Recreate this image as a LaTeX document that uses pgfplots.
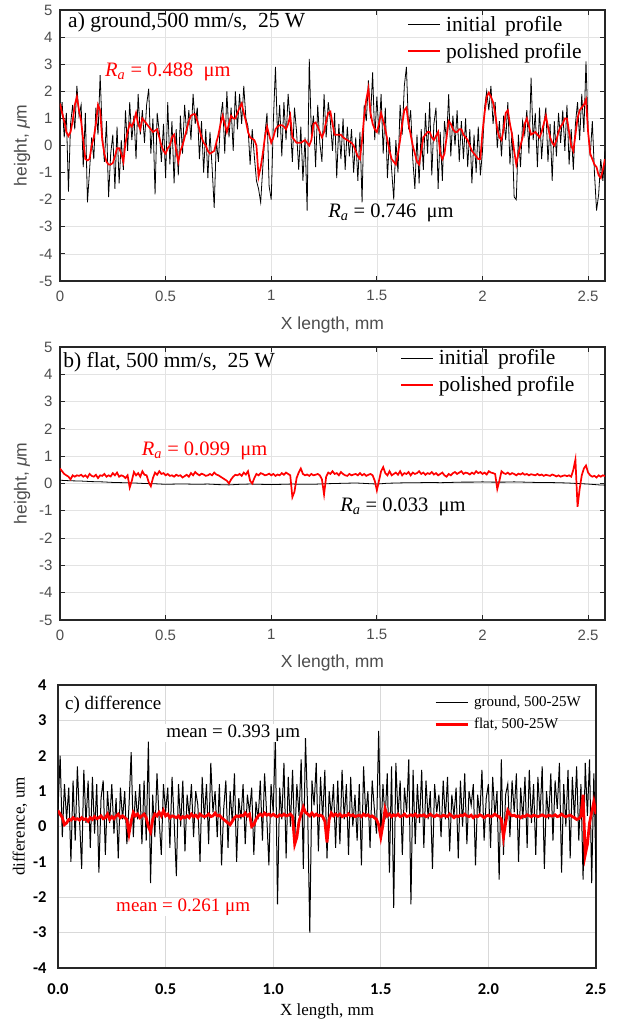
\documentclass[border=0pt]{standalone}
\usepackage{fontspec}
\setmainfont{Liberation Serif}
\setsansfont{Liberation Sans}
\newfontfamily\carlito{Carlito}
\usepackage{pgfplots}
\pgfplotsset{compat=1.18}
\definecolor{axgray}{HTML}{262626}
\definecolor{tickgray}{HTML}{4D4D4D}
\definecolor{gridgray}{HTML}{E3E3E3}
\definecolor{gridc}{HTML}{D9D9D9}
\pgfplotsset{
 matlab/.style={
  scale only axis, width=545pt,
  xmin=0, xmax=2.58, ymin=-5, ymax=5,
  xtick={0,0.5,1,1.5,2,2.5}, ytick={-5,-4,...,5},
  grid=major, grid style={gridgray, line width=0.7pt},
  axis line style={axgray, line width=1.4pt},
  tick style={axgray, line width=1pt}, tick align=inside, tick pos=both,
  major tick length=5pt,
  /pgf/number format/assume math mode=true,
  ticklabel style={font=\sffamily\fontsize{15}{17}\selectfont, text=tickgray},
  xticklabel style={yshift=-6pt},
  yticklabel style={xshift=-4pt},
  label style={font=\sffamily\fontsize{17.5}{20}\selectfont, text=tickgray},
  xlabel={X length, mm},
  ylabel={height, {\itshape μ}m},
  ylabel style={at={(axis description cs:-0.0697,0.5)}, anchor=center},
  legend cell align=left,
  legend image code/.code={\draw[#1] (0pt,0pt) -- (32pt,0pt);},
  legend style={draw=none, fill=none, font=\fontsize{21.5}{23}\selectfont, inner sep=0pt, row sep=6pt, column sep=3pt},
 }
}
\begin{document}
\begin{tikzpicture}
\path[use as bounding box] (0pt,0pt) rectangle (623pt,-1021pt);
% ---------------- panel a ----------------
\begin{axis}[matlab, at={(60pt,-281pt)}, anchor=south west, height=271pt,
  xlabel style={at={(axis description cs:0.5,-0.162)}, anchor=center},
  legend style={at={(0.637,0.985)}, anchor=north west}]
\addplot[black, line width=0.8pt] coordinates {
(0.00,0.9)(0.01,1.6)(0.02,0.3)(0.03,1.2)(0.04,-1.7)(0.05,0.8)(0.06,1.5)(0.07,0.6)(0.08,2.2)(0.09,1.1)
(0.10,1.5)(0.11,-0.8)(0.12,1.2)(0.13,-2.1)(0.14,-0.9)(0.15,0.3)(0.16,-0.5)(0.17,1.4)(0.18,0.4)(0.19,2.6)
(0.20,0.5)(0.21,-0.6)(0.22,0.9)(0.23,-1.9)(0.24,-0.3)(0.25,0.4)(0.26,-1.6)(0.27,0.7)(0.28,-1.4)(0.29,0.2)
(0.30,-0.9)(0.31,1.3)(0.32,-0.2)(0.33,1.6)(0.34,0.2)(0.35,1.1)(0.36,-0.5)(0.37,1.9)(0.38,0.4)(0.39,1.3)
(0.40,0.1)(0.41,1.5)(0.42,2.1)(0.43,-0.3)(0.44,1.0)(0.45,-1.8)(0.46,1.2)(0.47,0.5)(0.48,-0.6)(0.49,0.8)
(0.50,-1.2)(0.51,1.6)(0.52,-0.7)(0.53,0.9)(0.54,-1.4)(0.55,0.6)(0.56,-1.1)(0.57,1.1)(0.58,-0.3)(0.59,1.5)
(0.60,0.4)(0.61,1.3)(0.62,0.2)(0.63,1.9)(0.64,0.8)(0.65,1.4)(0.66,-0.5)(0.67,0.9)(0.68,-1.0)(0.69,0.6)
(0.70,-1.2)(0.71,0.5)(0.72,-0.8)(0.73,-2.3)(0.74,0.2)(0.75,-0.6)(0.76,1.0)(0.77,1.6)(0.78,-0.3)(0.79,2.0)
(0.80,0.3)(0.81,1.4)(0.82,-0.2)(0.83,2.0)(0.84,0.6)(0.85,1.9)(0.86,0.8)(0.87,2.2)(0.88,1.0)(0.89,0.7)
(0.90,-0.7)(0.91,0.6)(0.92,-0.4)(0.93,-1.3)(0.94,-1.6)(0.95,-2.1)(0.96,-0.8)(0.97,0.4)(0.98,1.2)(0.99,-1.5)
(1.00,-2.0)(1.01,0.9)(1.02,2.9)(1.03,0.3)(1.04,1.5)(1.05,-0.4)(1.06,1.6)(1.07,0.2)(1.08,1.9)(1.09,0.8)
(1.10,-0.6)(1.11,1.4)(1.12,0.5)(1.13,-0.9)(1.14,0.7)(1.15,-1.3)(1.16,0.3)(1.17,-2.4)(1.18,3.2)(1.19,0.4)
(1.20,1.1)(1.21,-0.8)(1.22,1.5)(1.23,0.1)(1.24,-0.6)(1.25,1.9)(1.26,0.3)(1.27,1.6)(1.28,0.9)(1.29,-0.2)
(1.30,1.2)(1.31,-1.2)(1.32,0.8)(1.33,-0.5)(1.34,1.0)(1.35,-0.9)(1.36,0.7)(1.37,-0.4)(1.38,0.6)(1.39,-1.0)
(1.40,0.3)(1.41,-1.3)(1.42,0.5)(1.43,-2.1)(1.44,1.5)(1.45,0.9)(1.46,2.4)(1.47,1.0)(1.48,2.7)(1.49,0.2)
(1.50,1.8)(1.51,0.4)(1.52,1.9)(1.53,-0.3)(1.54,1.4)(1.55,-1.2)(1.56,0.3)(1.57,-0.9)(1.58,-2.0)(1.59,0.2)
(1.60,-1.0)(1.61,1.5)(1.62,0.4)(1.63,2.2)(1.64,2.9)(1.65,0.6)(1.66,1.3)(1.67,-0.5)(1.68,-1.6)(1.69,0.4)
(1.70,-1.4)(1.71,0.6)(1.72,-0.9)(1.73,1.2)(1.74,-0.3)(1.75,1.6)(1.76,-1.1)(1.77,0.8)(1.78,1.4)(1.79,-1.6)
(1.80,0.5)(1.81,-1.3)(1.82,0.9)(1.83,0.2)(1.84,1.9)(1.85,-0.4)(1.86,1.1)(1.87,0.0)(1.88,1.3)(1.89,-0.6)
(1.90,0.9)(1.91,-0.5)(1.92,1.0)(1.93,-0.8)(1.94,0.6)(1.95,-1.4)(1.96,0.4)(1.97,-1.0)(1.98,0.7)(1.99,-1.1)
(2.00,-0.2)(2.01,1.4)(2.02,2.0)(2.03,1.3)(2.04,2.2)(2.05,0.8)(2.06,1.6)(2.07,-0.1)(2.08,0.9)(2.09,-0.4)
(2.10,1.1)(2.11,0.2)(2.12,1.6)(2.13,-0.7)(2.14,0.5)(2.15,-1.9)(2.16,-2.0)(2.17,0.4)(2.18,-0.8)(2.19,0.9)
(2.20,0.4)(2.21,1.3)(2.22,-0.3)(2.23,2.5)(2.24,0.2)(2.25,1.2)(2.26,-0.8)(2.27,1.4)(2.28,-0.5)(2.29,0.7)
(2.30,1.4)(2.31,-0.6)(2.32,0.8)(2.33,-1.3)(2.34,0.9)(2.35,-0.4)(2.36,1.2)(2.37,0.1)(2.38,1.3)(2.39,-0.2)
(2.40,1.5)(2.41,-0.7)(2.42,0.6)(2.43,-0.9)(2.44,0.8)(2.45,1.6)(2.46,0.2)(2.47,1.9)(2.48,0.5)(2.49,3.1)
(2.50,0.6)(2.51,-0.4)(2.52,0.9)(2.53,-1.0)(2.54,-2.4)(2.55,-1.8)(2.56,-0.5)(2.57,-1.3)(2.58,-0.2)
};
\addlegendentry{initial\, profile}
\addplot[red, line width=1.7pt] coordinates {
(0.00,1.55)(0.01,1.2)(0.02,0.9)(0.03,0.5)(0.04,0.35)(0.05,0.5)(0.06,0.9)(0.07,1.5)(0.08,1.8)(0.09,1.3)
(0.10,0.9)(0.11,0.2)(0.12,-0.5)(0.13,-0.55)(0.14,-0.5)(0.15,0.0)(0.16,0.3)(0.17,0.8)(0.18,1.5)(0.19,1.3)
(0.20,0.2)(0.21,-0.3)(0.22,-0.6)(0.23,-0.7)(0.24,-0.7)(0.25,-0.65)(0.26,-0.4)(0.27,-0.1)(0.28,-0.1)(0.29,-0.3)
(0.30,-0.6)(0.31,0.1)(0.32,0.5)(0.33,0.8)(0.34,0.7)(0.35,0.9)(0.36,1.2)(0.37,0.8)(0.38,0.6)(0.39,1.0)
(0.40,0.9)(0.41,0.8)(0.42,0.7)(0.43,0.6)(0.44,0.5)(0.45,0.55)(0.46,0.6)(0.47,0.3)(0.48,0.0)(0.49,-0.2)
(0.50,-0.3)(0.51,-0.1)(0.52,0.0)(0.53,0.3)(0.54,0.4)(0.55,-0.2)(0.56,-0.6)(0.57,-0.2)(0.58,0.0)(0.59,0.3)
(0.60,0.6)(0.61,0.9)(0.62,1.1)(0.63,1.15)(0.64,1.15)(0.65,0.9)(0.66,0.6)(0.67,0.3)(0.68,0.1)(0.69,0.0)
(0.70,-0.2)(0.71,-0.3)(0.72,-0.25)(0.73,-0.2)(0.74,0.1)(0.75,0.4)(0.76,0.8)(0.77,1.1)(0.78,0.8)(0.79,0.5)
(0.80,0.8)(0.81,1.1)(0.82,1.0)(0.83,1.0)(0.84,1.2)(0.85,1.4)(0.86,1.55)(0.87,1.2)(0.88,0.9)(0.89,0.5)
(0.90,0.3)(0.91,0.25)(0.92,0.2)(0.93,0.0)(0.94,-1.15)(0.95,-0.8)(0.96,-0.3)(0.97,0.3)(0.98,0.7)(0.99,0.4)
(1.00,0.1)(1.01,0.3)(1.02,0.6)(1.03,0.7)(1.04,0.75)(1.05,0.75)(1.06,0.7)(1.07,0.6)(1.08,0.8)(1.09,1.1)
(1.10,0.3)(1.11,0.2)(1.12,0.1)(1.13,0.1)(1.14,0.1)(1.15,0.15)(1.16,0.2)(1.17,0.1)(1.18,0.0)(1.19,0.2)
(1.20,0.8)(1.21,0.85)(1.22,0.7)(1.23,0.5)(1.24,0.3)(1.25,0.5)(1.26,0.9)(1.27,1.2)(1.28,1.25)(1.29,0.8)
(1.30,0.4)(1.31,0.4)(1.32,0.4)(1.33,0.4)(1.34,0.3)(1.35,0.25)(1.36,0.2)(1.37,0.15)(1.38,0.1)(1.39,0.0)
(1.40,-0.2)(1.41,-0.4)(1.42,-0.5)(1.43,0.2)(1.44,1.1)(1.45,1.7)(1.46,2.1)(1.47,1.2)(1.48,0.8)(1.49,0.6)
(1.50,0.5)(1.51,0.8)(1.52,1.2)(1.53,0.9)(1.54,0.6)(1.55,0.2)(1.56,-0.2)(1.57,-0.5)(1.58,-0.6)(1.59,-0.7)
(1.60,-0.3)(1.61,0.2)(1.62,0.8)(1.63,1.3)(1.64,1.4)(1.65,0.8)(1.66,0.4)(1.67,0.0)(1.68,-0.3)(1.69,-0.6)
(1.70,-0.7)(1.71,-0.2)(1.72,0.3)(1.73,0.4)(1.74,0.5)(1.75,0.5)(1.76,0.3)(1.77,0.2)(1.78,0.35)(1.79,0.5)
(1.80,-0.3)(1.81,-0.5)(1.82,-0.3)(1.83,0.3)(1.84,0.9)(1.85,0.8)(1.86,0.6)(1.87,0.5)(1.88,0.5)(1.89,0.6)
(1.90,0.6)(1.91,0.4)(1.92,0.3)(1.93,0.2)(1.94,0.0)(1.95,-0.2)(1.96,-0.3)(1.97,-0.4)(1.98,-0.5)(1.99,-0.5)
(2.00,0.5)(2.01,1.2)(2.02,1.8)(2.03,1.95)(2.04,1.8)(2.05,1.6)(2.06,1.2)(2.07,0.6)(2.08,0.3)(2.09,0.2)
(2.10,0.6)(2.11,1.2)(2.12,1.3)(2.13,0.8)(2.14,0.4)(2.15,-0.2)(2.16,-0.7)(2.17,-0.3)(2.18,0.0)(2.19,0.3)
(2.20,0.8)(2.21,1.0)(2.22,0.7)(2.23,0.4)(2.24,0.45)(2.25,0.5)(2.26,0.4)(2.27,0.3)(2.28,0.5)(2.29,0.8)
(2.30,1.1)(2.31,0.7)(2.32,0.3)(2.33,0.1)(2.34,0.0)(2.35,0.2)(2.36,0.5)(2.37,0.7)(2.38,0.8)(2.39,1.0)
(2.40,1.0)(2.41,0.5)(2.42,0.0)(2.43,-0.2)(2.44,0.4)(2.45,1.0)(2.46,1.3)(2.47,1.4)(2.48,1.5)(2.49,1.7)
(2.50,0.5)(2.51,-0.3)(2.52,-0.5)(2.53,-0.7)(2.54,-0.8)(2.55,-1.1)(2.56,-1.2)(2.57,-0.9)(2.58,-0.5)
};
\addlegendentry{polished profile}
\node[anchor=west, inner sep=0pt, font=\fontsize{21.5}{23}\selectfont] at (rel axis cs:0.0147,0.956) {a) ground,500 mm/s,~~25 W};
\node[anchor=west, inner sep=0pt, text=red, font=\fontsize{20.5}{22}\selectfont] at (rel axis cs:0.0826,0.771) {{\itshape R\textsubscript{a}} = 0.488~~μm};
\node[anchor=west, inner sep=0pt, font=\fontsize{20.5}{22}\selectfont] at (rel axis cs:0.492,0.251) {{\itshape R\textsubscript{a}} = 0.746~~μm};
\end{axis}
% ---------------- panel b ----------------
\begin{axis}[matlab, at={(60pt,-620pt)}, anchor=south west, height=273pt,
  xlabel style={at={(axis description cs:0.5,-0.158)}, anchor=center},
  legend style={at={(0.624,0.998)}, anchor=north west}]
\addplot[black, line width=0.8pt] coordinates {
(0.00,0.12)(0.05,0.10)(0.10,0.09)(0.15,0.07)(0.20,0.06)(0.25,0.04)(0.30,0.03)(0.35,0.02)(0.40,0.0)(0.45,-0.01)
(0.50,-0.03)(0.55,-0.02)(0.60,-0.02)(0.65,-0.03)(0.70,-0.02)(0.75,-0.04)(0.80,-0.05)(0.85,-0.03)(0.90,-0.02)(0.95,-0.03)
(1.00,-0.04)(1.05,-0.03)(1.10,-0.02)(1.15,-0.03)(1.20,-0.03)(1.25,-0.01)(1.30,0.0)(1.35,0.01)(1.40,0.02)(1.45,0.0)
(1.50,-0.02)(1.55,0.01)(1.60,0.02)(1.65,0.03)(1.70,0.03)(1.75,0.04)(1.80,0.03)(1.85,0.04)(1.90,0.05)(1.95,0.05)
(2.00,0.06)(2.05,0.05)(2.10,0.05)(2.15,0.06)(2.20,0.05)(2.25,0.04)(2.30,0.04)(2.35,0.03)(2.40,0.02)(2.45,0.0)
(2.50,-0.02)(2.55,-0.05)(2.58,-0.06)
};
\addlegendentry{initial\, profile}
\addplot[red, line width=1.7pt] coordinates {
(0.00,0.55)(0.01,0.45)(0.02,0.35)(0.03,0.3)(0.04,0.25)(0.05,0.15)(0.06,0.3)(0.07,0.25)(0.08,0.3)(0.09,0.28)
(0.10,0.32)(0.11,0.25)(0.12,0.3)(0.13,0.22)(0.14,0.35)(0.15,0.28)(0.16,0.25)(0.17,0.32)(0.18,0.2)(0.19,0.3)
(0.20,0.28)(0.21,0.35)(0.22,0.25)(0.23,0.3)(0.24,0.26)(0.25,0.38)(0.26,0.3)(0.27,0.4)(0.28,0.25)(0.29,0.3)
(0.30,0.27)(0.31,0.2)(0.32,0.3)(0.33,-0.15)(0.34,0.1)(0.35,0.42)(0.36,0.3)(0.37,0.38)(0.38,0.25)(0.39,0.45)
(0.40,0.32)(0.41,0.3)(0.42,0.05)(0.43,-0.1)(0.44,0.2)(0.45,0.4)(0.46,0.32)(0.47,0.45)(0.48,0.35)(0.49,0.38)
(0.50,0.3)(0.51,0.35)(0.52,0.28)(0.53,0.3)(0.54,0.25)(0.55,0.32)(0.56,0.28)(0.57,0.3)(0.58,0.22)(0.59,0.27)
(0.60,0.32)(0.61,0.25)(0.62,0.38)(0.63,0.3)(0.64,0.42)(0.65,0.35)(0.66,0.3)(0.67,0.36)(0.68,0.33)(0.69,0.28)
(0.70,0.3)(0.71,0.35)(0.72,0.3)(0.73,0.4)(0.74,0.33)(0.75,0.3)(0.76,0.25)(0.77,0.2)(0.78,0.15)(0.79,0.1)
(0.80,0.0)(0.81,0.15)(0.82,0.25)(0.83,0.32)(0.84,0.3)(0.85,0.35)(0.86,0.28)(0.87,0.4)(0.88,0.33)(0.89,0.45)
(0.90,0.1)(0.91,0.0)(0.92,0.2)(0.93,0.35)(0.94,0.3)(0.95,0.38)(0.96,0.35)(0.97,0.3)(0.98,0.32)(0.99,0.36)
(1.00,0.3)(1.01,0.35)(1.02,0.28)(1.03,0.33)(1.04,0.3)(1.05,0.38)(1.06,0.32)(1.07,0.4)(1.08,0.35)(1.09,0.3)
(1.10,-0.5)(1.11,-0.3)(1.12,0.2)(1.13,0.4)(1.14,0.55)(1.15,0.35)(1.16,0.3)(1.17,0.33)(1.18,0.28)(1.19,0.35)
(1.20,0.3)(1.21,0.32)(1.22,0.35)(1.23,0.3)(1.24,0.15)(1.25,-0.4)(1.26,0.25)(1.27,0.4)(1.28,0.35)(1.29,0.45)
(1.30,0.35)(1.31,0.38)(1.32,0.3)(1.33,0.42)(1.34,0.35)(1.35,0.3)(1.36,0.28)(1.37,0.35)(1.38,0.3)(1.39,0.33)
(1.40,0.35)(1.41,0.3)(1.42,0.38)(1.43,0.3)(1.44,0.35)(1.45,0.28)(1.46,0.32)(1.47,0.35)(1.48,0.3)(1.49,0.1)
(1.50,-0.25)(1.51,0.1)(1.52,0.45)(1.53,0.6)(1.54,0.38)(1.55,0.3)(1.56,0.45)(1.57,0.3)(1.58,0.35)(1.59,0.4)
(1.60,0.32)(1.61,0.45)(1.62,0.3)(1.63,0.38)(1.64,0.35)(1.65,0.42)(1.66,0.3)(1.67,0.4)(1.68,0.35)(1.69,0.38)
(1.70,0.45)(1.71,0.35)(1.72,0.4)(1.73,0.32)(1.74,0.38)(1.75,0.35)(1.76,0.42)(1.77,0.33)(1.78,0.38)(1.79,0.3)
(1.80,0.35)(1.81,0.4)(1.82,0.3)(1.83,0.25)(1.84,0.35)(1.85,0.3)(1.86,0.38)(1.87,0.42)(1.88,0.35)(1.89,0.4)
(1.90,0.45)(1.91,0.35)(1.92,0.4)(1.93,0.38)(1.94,0.33)(1.95,0.4)(1.96,0.35)(1.97,0.45)(1.98,0.38)(1.99,0.42)
(2.00,0.35)(2.01,0.4)(2.02,0.33)(2.03,0.45)(2.04,0.4)(2.05,0.38)(2.06,0.35)(2.07,-0.2)(2.08,0.1)(2.09,0.45)
(2.10,0.38)(2.11,0.35)(2.12,0.4)(2.13,0.33)(2.14,0.38)(2.15,0.35)(2.16,0.3)(2.17,0.36)(2.18,0.33)(2.19,0.38)
(2.20,0.32)(2.21,0.35)(2.22,0.3)(2.23,0.34)(2.24,0.32)(2.25,0.3)(2.26,0.35)(2.27,0.3)(2.28,0.33)(2.29,0.28)
(2.30,0.32)(2.31,0.3)(2.32,0.28)(2.33,0.33)(2.34,0.3)(2.35,0.26)(2.36,0.3)(2.37,0.25)(2.38,0.28)(2.39,0.3)
(2.40,0.27)(2.41,0.3)(2.42,0.25)(2.43,0.5)(2.44,0.88)(2.45,-0.85)(2.46,-0.2)(2.47,0.3)(2.48,0.55)(2.49,0.66)
(2.50,0.4)(2.51,0.3)(2.52,0.25)(2.53,0.28)(2.54,0.22)(2.55,0.3)(2.56,0.25)(2.57,0.3)(2.58,0.27)
};
\addlegendentry{polished profile}
\node[anchor=west, inner sep=0pt, font=\fontsize{21.5}{23}\selectfont] at (rel axis cs:0.006,0.945) {b) flat,~500 mm/s,~~25 W};
\node[anchor=west, inner sep=0pt, text=red, font=\fontsize{20.5}{22}\selectfont] at (rel axis cs:0.15,0.619) {{\itshape R\textsubscript{a}} = 0.099~~μm};
\node[anchor=west, inner sep=0pt, font=\fontsize{20.5}{22}\selectfont] at (rel axis cs:0.514,0.414) {{\itshape R\textsubscript{a}} = 0.033~~μm};
\end{axis}
% ---------------- panel c ----------------
\begin{axis}[scale only axis, at={(58pt,-968pt)}, anchor=south west, width=538pt, height=283pt,
  xmin=0, xmax=2.5, ymin=-4, ymax=4,
  xtick={0,0.5,1,1.5,2,2.5}, ytick={-4,-3,...,4},
  grid=major, grid style={gridc, line width=1pt},
  axis line style={axgray, line width=1.3pt},
  major tick length=0pt,
  /pgf/number format/assume math mode=true,
  ticklabel style={font=\carlito\bfseries\fontsize{16.5}{18}\selectfont, text=black},
  xticklabel style={yshift=-12pt, /pgf/number format/.cd, fixed, fixed zerofill, precision=1},
  yticklabel style={xshift=-8pt},
  label style={font=\fontsize{17}{19}\selectfont},
  xlabel={X length, mm},
  ylabel={difference, um},
  xlabel style={at={(axis description cs:0.5,-0.155)}, anchor=center},
  ylabel style={at={(axis description cs:-0.0706,0.5)}, anchor=center},
  legend cell align=left,
  legend image code/.code={\draw[#1] (0pt,0pt) -- (32pt,0pt);},
  legend style={draw=none, fill=none, font=\fontsize{15}{17}\selectfont, inner sep=0pt, row sep=6pt, column sep=3pt,
    at={(0.699,0.968)}, anchor=north west}]
\addplot[black, line width=1pt] coordinates {
(0.00,0.5)(0.01,2.0)(0.02,-0.3)(0.03,1.2)(0.04,0.2)(0.05,1.1)(0.06,-1.0)(0.07,1.3)(0.08,-0.4)(0.09,1.7)
(0.10,0.2)(0.11,-1.2)(0.12,1.6)(0.13,0.1)(0.14,1.3)(0.15,-0.6)(0.16,1.4)(0.17,-0.2)(0.18,1.2)(0.19,-1.3)
(0.20,0.8)(0.21,1.3)(0.22,-0.8)(0.23,1.0)(0.24,0.1)(0.25,1.2)(0.26,-0.2)(0.27,0.8)(0.28,-0.9)(0.29,1.1)
(0.30,0.2)(0.31,1.0)(0.32,-0.5)(0.33,0.6)(0.34,2.1)(0.35,-0.3)(0.36,1.0)(0.37,0.2)(0.38,1.2)(0.39,-0.5)
(0.40,1.3)(0.41,-0.4)(0.42,2.4)(0.43,-1.6)(0.44,0.9)(0.45,-0.3)(0.46,1.5)(0.47,0.2)(0.48,-0.8)(0.49,1.2)
(0.50,0.4)(0.51,1.1)(0.52,-0.6)(0.53,1.4)(0.54,0.1)(0.55,-1.4)(0.56,1.2)(0.57,0.0)(0.58,1.3)(0.59,-0.7)
(0.60,0.9)(0.61,0.3)(0.62,1.2)(0.63,-0.3)(0.64,1.0)(0.65,0.6)(0.66,-1.0)(0.67,1.4)(0.68,0.2)(0.69,1.2)
(0.70,-0.5)(0.71,1.8)(0.72,0.4)(0.73,1.0)(0.74,-0.3)(0.75,1.2)(0.76,-1.1)(0.77,0.5)(0.78,1.3)(0.79,-0.6)
(0.80,1.0)(0.81,0.1)(0.82,1.5)(0.83,-1.0)(0.84,0.8)(0.85,0.2)(0.86,1.2)(0.87,-0.5)(0.88,0.9)(0.89,0.4)
(0.90,1.1)(0.91,-0.8)(0.92,0.7)(0.93,0.2)(0.94,1.3)(0.95,-0.4)(0.96,1.5)(0.97,0.3)(0.98,-1.1)(0.99,1.2)
(1.00,0.4)(1.01,2.5)(1.02,-2.2)(1.03,1.1)(1.04,0.2)(1.05,1.8)(1.06,-0.9)(1.07,1.4)(1.08,0.0)(1.09,1.6)
(1.10,-0.4)(1.11,1.2)(1.12,0.3)(1.13,1.9)(1.14,-1.2)(1.15,2.5)(1.16,0.5)(1.17,-3.0)(1.18,1.3)(1.19,0.6)
(1.20,1.8)(1.21,-0.7)(1.22,1.4)(1.23,0.2)(1.24,1.6)(1.25,-0.9)(1.26,1.0)(1.27,0.3)(1.28,1.2)(1.29,-0.6)
(1.30,1.3)(1.31,-0.5)(1.32,1.6)(1.33,0.2)(1.34,1.2)(1.35,-0.8)(1.36,1.4)(1.37,0.0)(1.38,0.9)(1.39,-0.4)
(1.40,1.2)(1.41,-1.1)(1.42,1.7)(1.43,0.3)(1.44,1.0)(1.45,-0.6)(1.46,1.3)(1.47,0.5)(1.48,-0.2)(1.49,2.7)
(1.50,-0.3)(1.51,1.2)(1.52,0.2)(1.53,1.5)(1.54,-1.3)(1.55,1.7)(1.56,-2.3)(1.57,1.8)(1.58,0.3)(1.59,1.3)
(1.60,-0.8)(1.61,1.1)(1.62,0.4)(1.63,1.9)(1.64,-2.2)(1.65,1.6)(1.66,-0.5)(1.67,1.2)(1.68,0.1)(1.69,1.6)
(1.70,-0.6)(1.71,1.3)(1.72,0.2)(1.73,1.0)(1.74,-1.2)(1.75,1.2)(1.76,0.4)(1.77,0.9)(1.78,-0.3)(1.79,1.3)
(1.80,0.2)(1.81,1.4)(1.82,-0.7)(1.83,0.9)(1.84,0.3)(1.85,1.1)(1.86,-0.9)(1.87,1.3)(1.88,0.0)(1.89,1.5)
(1.90,-0.5)(1.91,1.0)(1.92,0.6)(1.93,1.2)(1.94,-1.1)(1.95,0.9)(1.96,0.3)(1.97,1.6)(1.98,-0.4)(1.99,0.8)
(2.00,1.2)(2.01,-0.6)(2.02,1.4)(2.03,0.3)(2.04,1.0)(2.05,-1.5)(2.06,1.9)(2.07,-0.8)(2.08,0.9)(2.09,1.2)
(2.10,-0.3)(2.11,1.3)(2.12,0.4)(2.13,1.5)(2.14,-1.0)(2.15,1.1)(2.16,0.2)(2.17,1.4)(2.18,-0.6)(2.19,1.6)
(2.20,0.1)(2.21,1.2)(2.22,-0.8)(2.23,1.4)(2.24,0.3)(2.25,1.7)(2.26,-1.2)(2.27,1.0)(2.28,0.2)(2.29,1.5)
(2.30,-0.4)(2.31,1.3)(2.32,0.5)(2.33,1.8)(2.34,-1.3)(2.35,1.2)(2.36,0.0)(2.37,1.6)(2.38,-0.9)(2.39,1.4)
(2.40,0.2)(2.41,1.7)(2.42,-0.4)(2.43,1.2)(2.44,-1.5)(2.45,1.8)(2.46,0.3)(2.47,1.9)(2.48,-1.6)(2.49,1.5)
(2.50,-1.3)
};
\addlegendentry{ground, 500-25W}
\addplot[red, line width=2.8pt] coordinates {
(0.00,0.45)(0.01,0.35)(0.02,0.25)(0.03,0.05)(0.04,0.1)(0.05,0.2)(0.06,0.18)(0.07,0.25)(0.08,0.2)(0.09,0.22)
(0.10,0.18)(0.11,0.25)(0.12,0.2)(0.13,0.22)(0.14,0.15)(0.15,0.25)(0.16,0.2)(0.17,0.28)(0.18,0.22)(0.19,0.25)
(0.20,0.3)(0.21,0.22)(0.22,0.25)(0.23,0.35)(0.24,0.2)(0.25,0.28)(0.26,0.22)(0.27,0.3)(0.28,0.35)(0.29,0.25)
(0.30,0.3)(0.31,0.25)(0.32,0.2)(0.33,-0.2)(0.34,0.15)(0.35,0.4)(0.36,0.3)(0.37,0.35)(0.38,0.25)(0.39,0.3)
(0.40,0.35)(0.41,0.25)(0.42,0.0)(0.43,-0.15)(0.44,0.2)(0.45,0.35)(0.46,0.3)(0.47,0.4)(0.48,0.3)(0.49,0.45)
(0.50,0.3)(0.51,0.35)(0.52,0.25)(0.53,0.3)(0.54,0.28)(0.55,0.25)(0.56,0.3)(0.57,0.22)(0.58,0.28)(0.59,0.25)
(0.60,0.3)(0.61,0.25)(0.62,0.35)(0.63,0.28)(0.64,0.32)(0.65,0.25)(0.66,0.35)(0.67,0.3)(0.68,0.28)(0.69,0.3)
(0.70,0.35)(0.71,0.28)(0.72,0.3)(0.73,0.38)(0.74,0.3)(0.75,0.32)(0.76,0.25)(0.77,0.2)(0.78,0.15)(0.79,0.1)
(0.80,0.05)(0.81,0.15)(0.82,0.25)(0.83,0.3)(0.84,0.28)(0.85,0.32)(0.86,0.3)(0.87,0.38)(0.88,0.3)(0.89,0.35)
(0.90,0.0)(0.91,0.05)(0.92,0.2)(0.93,0.3)(0.94,0.35)(0.95,0.3)(0.96,0.38)(0.97,0.32)(0.98,0.35)(0.99,0.3)
(1.00,0.35)(1.01,0.3)(1.02,0.28)(1.03,0.33)(1.04,0.3)(1.05,0.35)(1.06,0.3)(1.07,0.32)(1.08,0.35)(1.09,0.28)
(1.10,-0.5)(1.11,-0.3)(1.12,0.15)(1.13,0.35)(1.14,0.55)(1.15,0.4)(1.16,0.35)(1.17,0.3)(1.18,0.38)(1.19,0.3)
(1.20,0.35)(1.21,0.3)(1.22,0.32)(1.23,0.28)(1.24,0.15)(1.25,-0.45)(1.26,0.2)(1.27,0.38)(1.28,0.3)(1.29,0.35)
(1.30,0.3)(1.31,0.35)(1.32,0.28)(1.33,0.32)(1.34,0.3)(1.35,0.36)(1.36,0.3)(1.37,0.33)(1.38,0.28)(1.39,0.3)
(1.40,0.32)(1.41,0.28)(1.42,0.35)(1.43,0.3)(1.44,0.33)(1.45,0.28)(1.46,0.3)(1.47,0.25)(1.48,0.2)(1.49,0.05)
(1.50,-0.3)(1.51,0.05)(1.52,0.5)(1.53,0.3)(1.54,0.35)(1.55,0.28)(1.56,0.33)(1.57,0.3)(1.58,0.35)(1.59,0.28)
(1.60,0.3)(1.61,0.35)(1.62,0.28)(1.63,0.3)(1.64,0.33)(1.65,0.3)(1.66,0.35)(1.67,0.28)(1.68,0.32)(1.69,0.3)
(1.70,0.33)(1.71,0.28)(1.72,0.3)(1.73,0.35)(1.74,0.3)(1.75,0.28)(1.76,0.33)(1.77,0.3)(1.78,0.28)(1.79,0.32)
(1.80,0.3)(1.81,0.28)(1.82,0.35)(1.83,0.3)(1.84,0.25)(1.85,0.3)(1.86,0.28)(1.87,0.32)(1.88,0.3)(1.89,0.35)
(1.90,0.3)(1.91,0.28)(1.92,0.32)(1.93,0.25)(1.94,0.3)(1.95,0.28)(1.96,0.33)(1.97,0.3)(1.98,0.25)(1.99,0.3)
(2.00,0.32)(2.01,0.28)(2.02,0.3)(2.03,0.35)(2.04,0.3)(2.05,0.28)(2.06,0.2)(2.07,-0.3)(2.08,0.1)(2.09,0.45)
(2.10,0.35)(2.11,0.3)(2.12,0.32)(2.13,0.28)(2.14,0.3)(2.15,0.25)(2.16,0.3)(2.17,0.28)(2.18,0.33)(2.19,0.3)
(2.20,0.28)(2.21,0.32)(2.22,0.3)(2.23,0.28)(2.24,0.3)(2.25,0.33)(2.26,0.3)(2.27,0.28)(2.28,0.32)(2.29,0.3)
(2.30,0.3)(2.31,0.33)(2.32,0.28)(2.33,0.3)(2.34,0.35)(2.35,0.3)(2.36,0.28)(2.37,0.3)(2.38,0.32)(2.39,0.28)
(2.40,0.25)(2.41,0.2)(2.42,0.22)(2.43,0.3)(2.44,0.9)(2.45,-0.8)(2.46,-0.5)(2.47,0.1)(2.48,0.4)(2.49,0.7)
(2.50,0.35)
};
\addlegendentry{flat, 500-25W}
\node[anchor=west, inner sep=0pt, font=\fontsize{19}{21}\selectfont] at (rel axis cs:0.013,0.929) {c) difference};
\node[anchor=west, font=\fontsize{19}{21}\selectfont, fill=white, inner sep=1pt] at (rel axis cs:0.199,0.830) {mean = 0.393 μm};
\node[anchor=west, text=red, font=\fontsize{19}{21}\selectfont, fill=white, inner sep=1pt] at (rel axis cs:0.106,0.2155) {mean = 0.261 μm};
\end{axis}
\end{tikzpicture}
\end{document}
